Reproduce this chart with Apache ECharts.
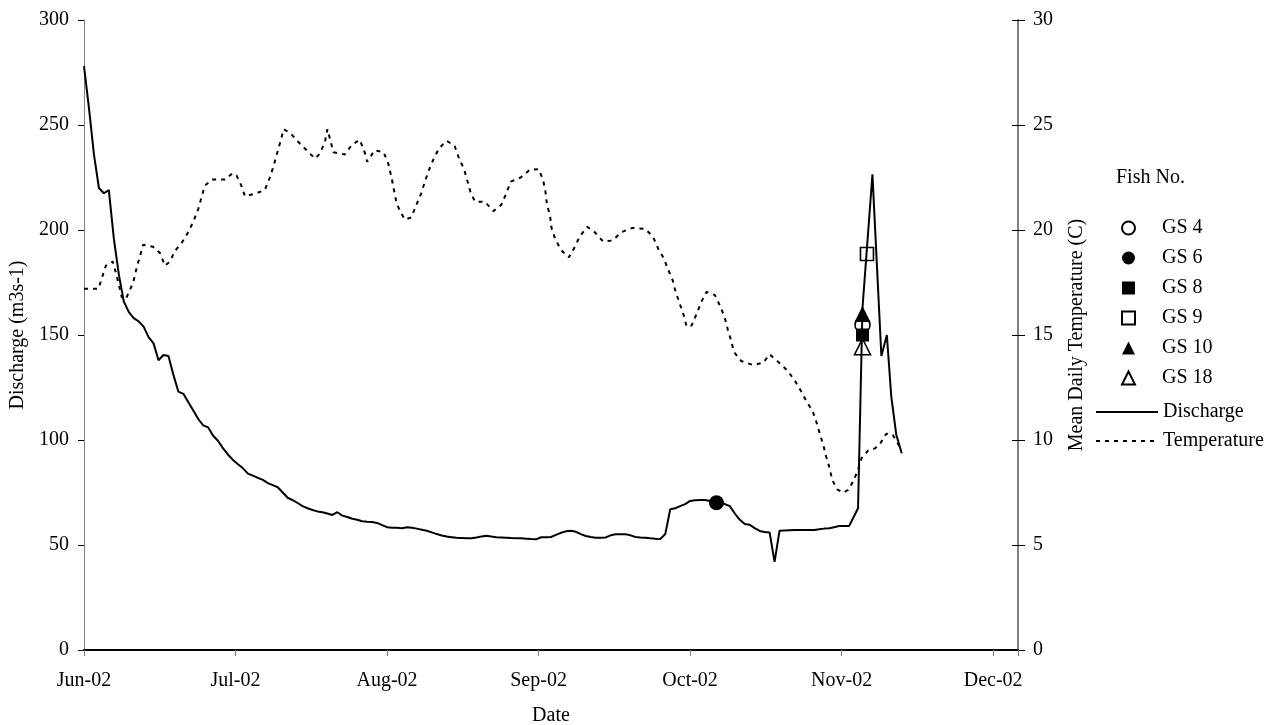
<!DOCTYPE html>
<html>
<head>
<meta charset="utf-8">
<script src="https://cdn.jsdelivr.net/npm/echarts@6/dist/echarts.min.js"></script>
<style>
  html, body { margin: 0; padding: 0; background: #fff; }
  #chart { width: 1269px; height: 725px; }
</style>
</head>
<body>
<div id="chart"></div>
<script>
// days counted from 1 Jun 2002, one month = 30.5 days on the axis
var monthLabels = ['Jun-02', 'Jul-02', 'Aug-02', 'Sep-02', 'Oct-02', 'Nov-02', 'Dec-02'];
var monthLen = 30.5;

// [day, discharge m3/s]
var discharge = [
  [0,278],[1,258],[2,236],[3,220],[4,217.5],[5,219],[6,196],[7,179],[8,166],[9,161],
  [10,158],[11,156.5],[12,154],[13,149],[14,146],[15,138],[16,140.5],[17,140],[18,131],[19,123],
  [20,122],[21,118],[22,114],[23,110],[24,107],[25,106],[26,102],[27,99.5],[28,96],[29,93],
  [30,90.5],[31,88.5],[32,86.5],[33,84],[34,83],[35,82],[36,81],[37,79.5],[38,78.5],[39,77.5],
  [40,75],[41,72.5],[42,71.4],[43,70],[44,68.5],[45,67.5],[46,66.7],[47,66],[48,65.6],[49,65],
  [50,64.3],[51,65.6],[52,64],[53,63.3],[54,62.5],[55,62],[56,61.3],[57,61.1],[58,61],[59,60.5],
  [60,59.5],[61,58.5],[62,58.2],[63,58.2],[64,58],[65,58.4],[66,58.2],[67,57.8],[68,57.3],[69,56.8],
  [70,56],[71,55.2],[72,54.5],[73,54],[74,53.7],[75,53.4],[76,53.3],[77,53.2],[78,53.2],[79,53.6],
  [80,54.1],[81,54.4],[82,54],[83,53.7],[84,53.6],[85,53.5],[86,53.3],[87,53.2],[88,53.2],[89,53],
  [90,52.8],[91,52.7],[92,53.7],[93,53.7],[94,53.8],[95,54.8],[96,55.8],[97,56.5],[98,56.8],[99,56.3],
  [100,55.2],[101,54.3],[102,53.8],[103,53.5],[104,53.5],[105,53.6],[106,54.6],[107,55.1],[108,55.1],[109,55.1],
  [110,54.6],[111,53.8],[112,53.6],[113,53.5],[114,53.2],[115,53],[116,52.9],[117,55.2],[118,67],[119,67.5],
  [120,68.5],[121,69.5],[122,71],[123,71.3],[124,71.4],[125,71.4],[126,71],[127,70.1],[128,69.8],[129,69.5],
  [130,68.5],[131,65],[132,62],[133,60],[134,59.6],[135,58],[136,56.7],[137,56.2],[138,56],[139,42],
  [140,56.8],[141,56.9],[142,57],[143,57.1],[144,57.1],[145,57.1],[146,57.1],[147,57.1],[148,57.5],[149,57.8],
  [150,58],[151,58.5],[152,59],[153,59],[154,59],[155.8,67.5],[156.7,163],[158.7,226.5],[160.5,140],
  [161.6,150],[162.5,120.5],[163.5,102.5],[164.6,93.7]
];

// [day, mean daily temperature C]
var temperature = [
  [0,17.2],[2.9,17.2],[4.4,18.3],[5.8,18.5],[6.6,17.8],[7.6,16.8],[8.4,16.7],[9.9,17.5],[10.6,18.2],[11.2,18.7],
  [11.9,19.3],[13.9,19.2],[15.3,18.9],[16.3,18.3],[17.3,18.5],[18.3,19],[19.7,19.4],[21,19.9],[22,20.4],[23,21],
  [23.7,21.6],[24.3,22.1],[25.7,22.4],[28.4,22.4],[29.9,22.7],[30.7,22.6],[31.7,22.1],[32.4,21.6],[34.7,21.75],[36.4,21.9],
  [37.4,22.5],[38.1,23],[38.8,23.6],[39.4,24.1],[40.2,24.8],[41.6,24.6],[43.1,24.2],[44.8,23.8],[46.5,23.4],[47.5,23.65],
  [48.5,24.2],[49,24.8],[50.2,23.7],[52.5,23.6],[53.9,24.05],[55.5,24.3],[56.5,23.7],[57,23.25],[58.5,23.8],[60.3,23.7],
  [61.2,23.2],[61.9,22.5],[62.4,21.9],[62.9,21.3],[63.6,20.9],[64.6,20.5],[65.9,20.6],[66.9,21.2],[67.9,21.75],[68.6,22.3],
  [69.5,22.9],[70.4,23.4],[71.5,23.9],[73,24.25],[74.6,24],[75.5,23.4],[76.5,22.9],[77.1,22.4],[77.8,21.8],[78.7,21.35],
  [80.7,21.35],[82.4,20.9],[84,21.2],[85,21.75],[85.9,22.3],[87.9,22.5],[89.7,22.86],[91.5,22.9],[92.4,22.4],[92.9,21.8],
  [93.2,21.2],[93.8,20.7],[94.1,20.1],[94.8,19.6],[96,19.05],[97.6,18.7],[98.8,19.2],[99.8,19.7],[101.3,20.15],[102.8,19.9],
  [104.5,19.45],[106.4,19.5],[108.2,19.9],[110.4,20.1],[112.9,20.05],[114.5,19.7],[115.6,19.1],[116.7,18.65],[117.6,18.1],[118.5,17.6],
  [119.1,17.05],[119.9,16.5],[120.7,15.95],[121.3,15.4],[122.3,15.45],[123.3,16],[124.3,16.6],[125.3,17.05],[127,16.9],[128.1,16.35],
  [129,15.8],[129.6,15.25],[130.3,14.7],[130.8,14.2],[132.3,13.76],[134.7,13.57],[136.7,13.68],[138,14.08],[139.7,13.73],[141.5,13.33],
  [143,12.86],[144.2,12.38],[145.3,11.9],[146.7,11.35],[147.4,10.87],[148.1,10.3],[148.8,9.76],[149.4,9.2],[150.1,8.65],[150.6,8.1],
  [151.6,7.65],[152.8,7.49],[153.8,7.62],[154.8,8.02],[155.8,8.57],[156.5,9.13],[157.8,9.49],[159.2,9.6],[160.2,9.81],[161.5,10.3],
  [162.8,10.24],[164.2,9.68]
];

// fish detections [day, discharge]
var fishNames = ['GS 4', 'GS 6', 'GS 8', 'GS 9', 'GS 10', 'GS 18'];
var fishPoints = [[156.7,154.8], [127.3,70.1], [156.7,150], [157.6,188.6], [156.7,160], [156.7,144.4]];
var fishSymbols = ['circle', 'circle', 'rect', 'rect', 'triangle', 'triangle'];
var fishFilled = [false, true, true, false, true, false];
var fishSizes = [15, 15, 13, 13, 16, 16];

var dischargeTicks = { min: 0, max: 300, interval: 50 };
var tempTicks = { min: 0, max: 30, interval: 5 };

var font = "'Liberation Serif', 'Times New Roman', serif";
var chart = echarts.init(document.getElementById('chart'));

var fishSeries = fishNames.map(function (name, i) {
  return {
    name: name,
    type: 'scatter',
    yAxisIndex: 0,
    symbol: fishSymbols[i],
    symbolSize: fishSizes[i],
    z: 5,
    itemStyle: {
      opacity: 1,
      color: fishFilled[i] ? '#000' : 'rgba(255,255,255,0)',
      borderColor: '#000',
      borderWidth: fishFilled[i] ? 0 : 1.6
    },
    data: [fishPoints[i]]
  };
});

function monthLabel(v) {
  var idx = Math.round(v / monthLen);
  if (Math.abs(v - idx * monthLen) < 0.01 && monthLabels[idx]) return monthLabels[idx];
  return '';
}

var legendText = { fontFamily: font, fontSize: 20, color: '#000' };

chart.setOption({
  backgroundColor: '#fff',
  animation: false,
  textStyle: { fontFamily: font },
  title: {
    text: 'Fish No.',
    left: 1116,
    top: 168,
    padding: 0,
    textStyle: { fontFamily: font, fontSize: 20, fontWeight: 'normal', color: '#000' }
  },
  legend: [
    {
      orient: 'vertical',
      left: 1121,
      top: 218,
      itemWidth: 13,
      itemHeight: 13,
      itemGap: 10,
      padding: 0,
      selectedMode: false,
      textStyle: Object.assign({ padding: [0, 0, 0, 22] }, legendText),
      data: fishNames
    },
    {
      orient: 'vertical',
      left: 1095,
      top: 402,
      itemWidth: 62,
      itemHeight: 13,
      itemGap: 9,
      padding: 0,
      selectedMode: false,
      itemStyle: { opacity: 0 },
      textStyle: legendText,
      data: ['Discharge', 'Temperature']
    }
  ],
  grid: { left: 84, top: 20, width: 934, height: 630, outerBoundsMode: 'none' },
  xAxis: {
    type: 'value',
    min: 0,
    max: 188,
    interval: monthLen,
    name: 'Date',
    nameLocation: 'middle',
    nameGap: 56,
    nameTextStyle: { fontFamily: font, fontSize: 20, color: '#000' },
    axisLine: { lineStyle: { color: '#000', width: 2 } },
    axisTick: { length: 6, lineStyle: { color: '#808080', width: 1 } },
    axisLabel: { margin: 21, fontFamily: font, fontSize: 20, color: '#000', formatter: monthLabel },
    splitLine: { show: false }
  },
  yAxis: [
    {
      type: 'value',
      position: 'left',
      min: dischargeTicks.min,
      max: dischargeTicks.max,
      interval: dischargeTicks.interval,
      name: 'Discharge (m3s-1)',
      nameLocation: 'middle',
      nameRotate: 90,
      nameGap: 49,
      nameTextStyle: { fontFamily: font, fontSize: 20, color: '#000' },
      axisLine: { show: true, lineStyle: { color: '#808080', width: 1 } },
      axisTick: { show: true, length: 6, lineStyle: { color: '#000' } },
      axisLabel: { margin: 15, fontFamily: font, fontSize: 20, color: '#000' },
      splitLine: { show: false }
    },
    {
      type: 'value',
      position: 'right',
      min: tempTicks.min,
      max: tempTicks.max,
      interval: tempTicks.interval,
      name: 'Mean Daily Temperature (C)',
      nameLocation: 'middle',
      nameRotate: 90,
      nameGap: 49,
      nameTextStyle: { fontFamily: font, fontSize: 20, color: '#000' },
      axisLine: { show: true, lineStyle: { color: '#808080', width: 2 } },
      axisTick: { show: true, length: 7, lineStyle: { color: '#000' } },
      axisLabel: { margin: 15, fontFamily: font, fontSize: 20, color: '#000' },
      splitLine: { show: false }
    },
    {
      // inner half of the crossing ticks on the right axis
      type: 'value',
      position: 'right',
      min: tempTicks.min,
      max: tempTicks.max,
      interval: tempTicks.interval,
      axisLine: { show: false },
      axisTick: { show: true, inside: true, length: 6, lineStyle: { color: '#000' } },
      axisLabel: { show: false },
      splitLine: { show: false }
    }
  ],
  series: [
    {
      name: 'Discharge',
      type: 'line',
      yAxisIndex: 0,
      symbol: 'none',
      z: 3,
      lineStyle: { color: '#000', width: 2 },
      itemStyle: { color: '#000' },
      data: discharge
    },
    {
      name: 'Temperature',
      type: 'line',
      yAxisIndex: 1,
      symbol: 'none',
      z: 2,
      lineStyle: { color: '#000', width: 2, type: [4, 5] },
      itemStyle: { color: '#000' },
      data: temperature
    }
  ].concat(fishSeries)
});
</script>
</body>
</html>
